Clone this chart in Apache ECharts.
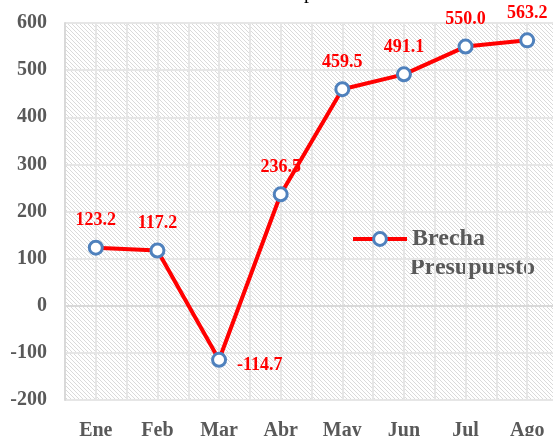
<!DOCTYPE html>
<html>
<head>
<meta charset="utf-8">
<script src="https://cdn.jsdelivr.net/npm/echarts@6/dist/echarts.min.js"></script>
<style>
    html, body {margin: 0; padding: 0; background: #fff;}
    #chart {width: 553px; height: 436px;}
</style>
</head>
<body>
<div id="chart"></div>
<script>
// Brecha presupuesto por mes
const months = ['Ene', 'Feb', 'Mar', 'Abr', 'May', 'Jun', 'Jul', 'Ago'];
const brecha = [123.2, 117.2, -114.7, 236.5, 459.5, 491.1, 550.0, 563.2];
const yTicks = [-200, 600, 100]; // min, max, interval

// patron de rayas diagonales del fondo
function hatch() {
    const c = document.createElement('canvas');
    c.width = 8;
    c.height = 8;
    const ctx = c.getContext('2d');
    ctx.fillStyle = '#ffffff';
    ctx.fillRect(0, 0, 8, 8);
    ctx.fillStyle = '#dadada';
    for (let i = 0; i < 8; i++) {
        ctx.fillRect(i, i, 1, 1);
        ctx.fillRect((i + 4) % 8, i, 1, 1);
    }
    return c;
}

const serif = '"Liberation Serif", "Times New Roman", serif';
const chart = echarts.init(document.getElementById('chart'));

chart.setOption({
    animation: false,
    title: {
        text: 'Brecha Presupuesto',
        left: 272,
        textAlign: 'center',
        top: -22,
        textStyle: {fontFamily: serif, fontSize: 20, fontWeight: 'normal', color: '#000'}
    },
    grid: {
        left: 65, width: 493, top: 23, bottom: 36,
        outerBoundsMode: 'none',
        show: true,
        borderWidth: 0,
        backgroundColor: {image: hatch(), repeat: 'repeat'}
    },
    legend: {
        left: 346, top: 222,
        itemWidth: 54, itemHeight: 16,
        formatter: () => 'Brecha',
        itemStyle: {borderWidth: 3},
        lineStyle: {width: 4},
        textStyle: {fontFamily: serif, fontSize: 24, fontWeight: 'bold', color: '#595959'}
    },
    graphic: [{
        type: 'text',
        left: 410, top: 256,
        style: {text: 'Presupuesto', fontFamily: serif, fontSize: 24, fontWeight: 'bold', fill: '#595959'}
    }],
    xAxis: [{
        type: 'category',
        data: months,
        axisTick: {show: false},
        axisLine: {lineStyle: {color: '#d9d9d9', width: 2}},
        axisLabel: {fontFamily: serif, fontSize: 20, fontWeight: 'bold', color: '#595959', margin: 21},
        splitLine: {show: false}
    }, {
        type: 'value',
        min: 0, max: 16, interval: 1,
        position: 'bottom',
        axisLine: {show: false},
        axisTick: {show: false},
        axisLabel: {show: false},
        splitLine: {show: true, lineStyle: {color: '#e6e6e6', width: 2}}
    }],
    yAxis: {
        type: 'value',
        min: yTicks[0], max: yTicks[1], interval: yTicks[2],
        axisLine: {show: true, lineStyle: {color: '#d9d9d9', width: 2}},
        axisTick: {show: false},
        axisLabel: {fontFamily: serif, fontSize: 20, fontWeight: 'bold', color: '#595959', margin: 18},
        splitLine: {lineStyle: {color: '#e6e6e6', width: 2}}
    },
    series: [{
        name: 'Brecha Presupuesto',
        type: 'line',
        data: brecha.map((v, i) => i === 2 ? {value: v, label: {position: 'right', offset: [0, 6]}} : v),
        symbol: 'circle',
        symbolSize: 13,
        itemStyle: {color: '#fff', borderColor: '#4f81bd', borderWidth: 3},
        lineStyle: {color: '#ff0000', width: 4},
        label: {
            show: true,
            position: 'top',
            distance: 10,
            formatter: p => p.value.toFixed(1),
            fontFamily: serif, fontSize: 18, fontWeight: 'bold', color: '#ff0000'
        }
    }]
});
</script>
</body>
</html>
